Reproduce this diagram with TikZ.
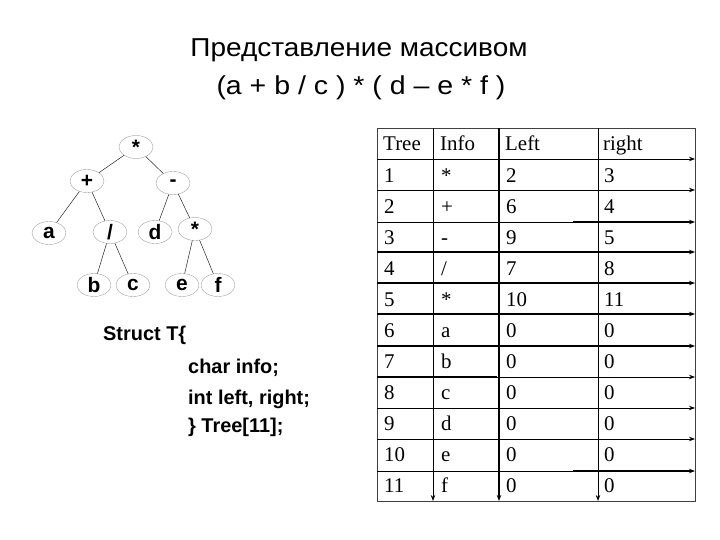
\documentclass[tikz,border=0pt]{standalone}
\usepackage{fontspec}
\setmainfont{Liberation Serif}
\newfontfamily\arialf{Liberation Sans}
\usetikzlibrary{shapes.geometric,arrows.meta}
\tikzset{
  tnode/.style={ellipse,draw=black!40,line width=0.35bp,minimum width=34bp,minimum height=23bp,inner sep=0pt,font=\arialf\bfseries\fontsize{21}{23}\selectfont},
  tedge/.style={line width=0.5bp,black!85},
  cell/.style={anchor=base west,inner sep=0pt,font=\fontsize{21}{23}\selectfont},
  code/.style={anchor=base west,inner sep=0pt,font=\arialf\bfseries\fontsize{20}{22}\selectfont},
  ttl/.style={anchor=base,inner sep=0pt,font=\arialf\fontsize{26}{29}\selectfont},
  thin/.style={line width=0.8bp},
  thick/.style={line width=2bp},
  arr/.style={-{Stealth[length=6bp,width=4.5bp]}},
  brd/.style={line width=0.6bp,black!75}
}
\begin{document}
\begin{tikzpicture}[x=1bp,y=-1bp]
\useasboundingbox (0,0) rectangle (720,540);
% title
\node[ttl] (t1) at (359,57) {\scalebox{1.08}[1]{Представление массивом}};
\node[ttl] (t2) at (361,95) {\scalebox{1.1}[1]{(a + b / c ) * ( d – e * f )}};
% tree
\node[tnode] (r) at (136,147) {*};
\node[tnode] (p) at (87,181) {+};
\node[tnode] (m) at (173,183) {-};
\node[tnode] (a) at (49,233) {a};
\node[tnode] (dv) at (110,232) {/};
\node[tnode] (d) at (155,232) {d};
\node[tnode] (s) at (195,229) {*};
\node[tnode] (b) at (94,285) {b};
\node[tnode] (c) at (133,285) {c};
\node[tnode] (e) at (182,285) {e};
\node[tnode] (f) at (218,285) {f};
\draw[tedge] (r) -- (p);
\draw[tedge] (r) -- (m);
\draw[tedge] (p) -- (a);
\draw[tedge] (p) -- (dv);
\draw[tedge] (m) -- (d);
\draw[tedge] (m) -- (s);
\draw[tedge] (dv) -- (b);
\draw[tedge] (dv) -- (c);
\draw[tedge] (s) -- (e);
\draw[tedge] (s) -- (f);
% struct
\node[code] (s1) at (103,340) {Struct T\{};
\node[code] (s2) at (188,373) {char info;};
\node[code] (s3) at (188,404) {int left, right;};
\node[code] (s4) at (188,432) {\} Tree[11];};
% table borders
\coordinate (TL) at (377,128);
\coordinate (BR) at (695,501);
\draw[brd] (TL) rectangle (BR);
% horizontal lines with arrows
\foreach \y in {159,190,408,439} {
  \coordinate (hl\y) at (377,\y);
  \coordinate (hr\y) at (695,\y);
  \draw[thin,arr] (hl\y) -- (hr\y);
}
\foreach \y in {252,283,314,346} {
  \coordinate (hl\y) at (377,\y);
  \coordinate (hr\y) at (695,\y);
  \draw[thick,arr] (hl\y) -- (hr\y);
}
\foreach \y in {222,471} {
  \coordinate (hl\y) at (377,\y);
  \coordinate (hm\y) at (573,\y);
  \coordinate (hr\y) at (695,\y);
  \draw[thin] (hl\y) -- (hm\y);
  \draw[thick,arr] (hm\y) -- (hr\y);
}
\coordinate (hl377) at (377,377);
\coordinate (hm377) at (497,377);
\coordinate (hr377) at (695,377);
\draw[thick] (hl377) -- (hm377);
\draw[thin,arr] (hm377) -- (hr377);
% vertical lines with arrows
\coordinate (v1t) at (433,128); \coordinate (v1b) at (433,501);
\coordinate (v2t) at (499,128); \coordinate (v2b) at (499,501);
\coordinate (v3t) at (598,128); \coordinate (v3b) at (598,501);
\draw[thin,arr] (v1t) -- (v1b);
\draw[thick,arr] (v2t) -- (v2b);
\draw[thin,arr] (v3t) -- (v3b);
% table text
\node[cell] (h1) at (383,151) {Tree};
\node[cell] (h2) at (440,151) {Info};
\node[cell] (h3) at (505,151) {Left};
\node[cell] (h4) at (603,151) {right};
\foreach \n/\i/\l/\r [count=\k] in {1/*/2/3,2/+/6/4,3/-/9/5,4/\slash/7/8,5/*/10/11,6/a/0/0,7/b/0/0,8/c/0/0,9/d/0/0,10/e/0/0,11/f/0/0} {
  \pgfmathsetmacro{\yb}{151+31.08*\k}
  \node[cell] (n\k) at (384,\yb) {\n};
  \node[cell] (i\k) at (441,\yb) {\i};
  \node[cell] (l\k) at (506,\yb) {\l};
  \node[cell] (rr\k) at (604,\yb) {\r};
}
\end{tikzpicture}
\end{document}
